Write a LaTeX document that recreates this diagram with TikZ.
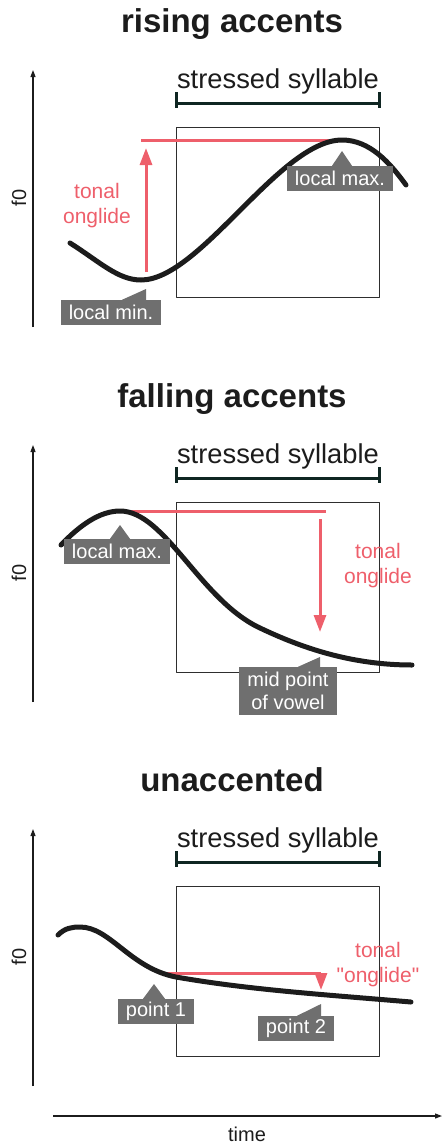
\documentclass[tikz,border=0pt]{standalone}
\usepackage{fontspec}
\setmainfont{Liberation Sans}
\newfontfamily\plainquotes{Liberation Sans}
\usetikzlibrary{arrows.meta, calc}
\definecolor{inkC}{HTML}{1C1C1C}
\definecolor{boxC}{HTML}{2E2E2E}
\definecolor{braceC}{HTML}{0F2622}
\definecolor{glideC}{HTML}{EE5F6B}
\definecolor{tagC}{HTML}{6F6F6F}

\begin{document}
\begin{tikzpicture}[
  x=1pt,
  y=-1pt,
  line join=round,
  title/.style={font=\fontsize{33}{36}\selectfont\bfseries, text=inkC, anchor=base},
  sylname/.style={font=\fontsize{27.3}{30}\selectfont, text=inkC, anchor=base},
  axislabel/.style={font=\fontsize{20}{22}\selectfont, text=inkC},
  axisline/.style={inkC, line width=1.1pt, -{Triangle[length=7pt, width=5pt]}},
  brace/.style={braceC, line width=3pt},
  sylbox/.style={boxC, line width=0.9pt},
  contour/.style={inkC, line width=5pt, line cap=round},
  glide/.style={glideC, line width=3pt},
  glidearrow/.style={glide, -{Triangle[length=17pt, width=12pt]}},
  glidelabel/.style={font=\fontsize{21}{25}\selectfont, text=glideC, align=center},
  tagbox/.style={fill=tagC, text=white, font=\fontsize{20}{23}\selectfont,
    inner xsep=8pt, inner ysep=2pt, minimum height=25pt, align=center}
]

\useasboundingbox (0,0) rectangle (443,1144);

% Common frame of each panel
\foreach \n/\dy/\ttl in {1/0/rising accents, 2/375/falling accents, 3/759/unaccented}{
  \begin{scope}[shift={(0,\dy)}]
    \node[title] (title\n) at (232,32) {\ttl};
    \coordinate (fBot\n) at (33,327);
    \coordinate (fTop\n) at (33,70);
    \draw[axisline] (fBot\n) -- (fTop\n);
    \node[axislabel, rotate=90] (fzero\n) at (19,198) {f0};
    \node[sylname] (syl\n) at (278,88) {stressed syllable};
    \draw[brace] (176,92) -- (176,108) (379,92) -- (379,108);
    \draw[brace] (176,103) -- (379,103);
    \draw[sylbox] (176,127) rectangle (379,297);
  \end{scope}
}

% Rising accents
\coordinate (minTip) at (146,289);
\coordinate (maxTip) at (342,151);
\coordinate (riseFoot) at (146,272);
\coordinate (riseTop) at (146,148);
\draw[glide] (141,140) -- (340,140);
\draw[glidearrow] (riseFoot) -- (riseTop);
\node[glidelabel] (riseLbl) at (97,206) {tonal\\onglide};
\draw[contour] (70,243) .. controls (100,262) and (118,280) .. (141,280)
  .. controls (200,280) and (280,140) .. (342,140)
  .. controls (370,140) and (390,163) .. (406,185);
\node[tagbox] (minTag) at (111,312.5) {local min.};
\fill[tagC] (minTip) -- (minTip |- minTag.north) -- ++(-24,0) -- cycle;
\node[tagbox] (maxTag) at (340,178.5) {local max.};
\fill[tagC] (maxTip) -- ($(maxTip |- maxTag.north)+(10,0)$)
  -- ($(maxTip |- maxTag.north)+(-10,0)$) -- cycle;

% Falling accents
\coordinate (peakTip) at (120,525);
\coordinate (midTip) at (320,657);
\coordinate (fallTop) at (320,519);
\coordinate (fallFoot) at (320,632);
\draw[glide] (120,511) -- (326,511);
\draw[glidearrow] (fallTop) -- (fallFoot);
\node[glidelabel] (fallLbl) at (378,566) {tonal\\onglide};
\draw[contour] (61,545) .. controls (80,525) and (100,511) .. (120,511)
  .. controls (165,511) and (200,600) .. (260,628)
  .. controls (300,647) and (350,665) .. (412,665);
\node[tagbox] (peakTag) at (117,551.5) {local max.};
\fill[tagC] (peakTip) -- ($(peakTip |- peakTag.north)+(10,0)$)
  -- ($(peakTip |- peakTag.north)+(-10,0)$) -- cycle;
\node[tagbox, minimum height=48pt] (midTag) at (288,691) {mid point\\of vowel};
\fill[tagC] (midTip) -- (midTip |- midTag.north) -- ++(-22,0) -- cycle;

% Unaccented
\coordinate (oneTip) at (154,984);
\coordinate (twoTip) at (321,1004);
\coordinate (flatEnd) at (321,973);
\coordinate (flatFoot) at (321,990);
\draw[glide] (167,973) -- (flatEnd);
\draw[glidearrow] (flatEnd) -- (flatFoot);
\node[glidelabel] (flatLbl) at (378,965) {tonal\\{\plainquotes "onglide"}};
\draw[contour] (58,935) .. controls (65,928) and (72,927) .. (80,927)
  .. controls (110,927) and (130,968) .. (176,977)
  .. controls (250,990) and (330,995) .. (411,1002);
\node[tagbox] (oneTag) at (156,1011.5) {point 1};
\fill[tagC] (oneTip) -- ($(oneTip |- oneTag.north)+(11,0)$)
  -- ($(oneTip |- oneTag.north)+(-11,0)$) -- cycle;
\node[tagbox] (twoTag) at (296,1028.5) {point 2};
\fill[tagC] (twoTip) -- (twoTip |- twoTag.north) -- ++(-24,0) -- cycle;

% Time axis
\coordinate (tLeft) at (53,1116);
\coordinate (tRight) at (442,1116);
\draw[axisline] (tLeft) -- (tRight);
\node[axislabel] (timeLbl) at (247,1134) {time};

\end{tikzpicture}
\end{document}
